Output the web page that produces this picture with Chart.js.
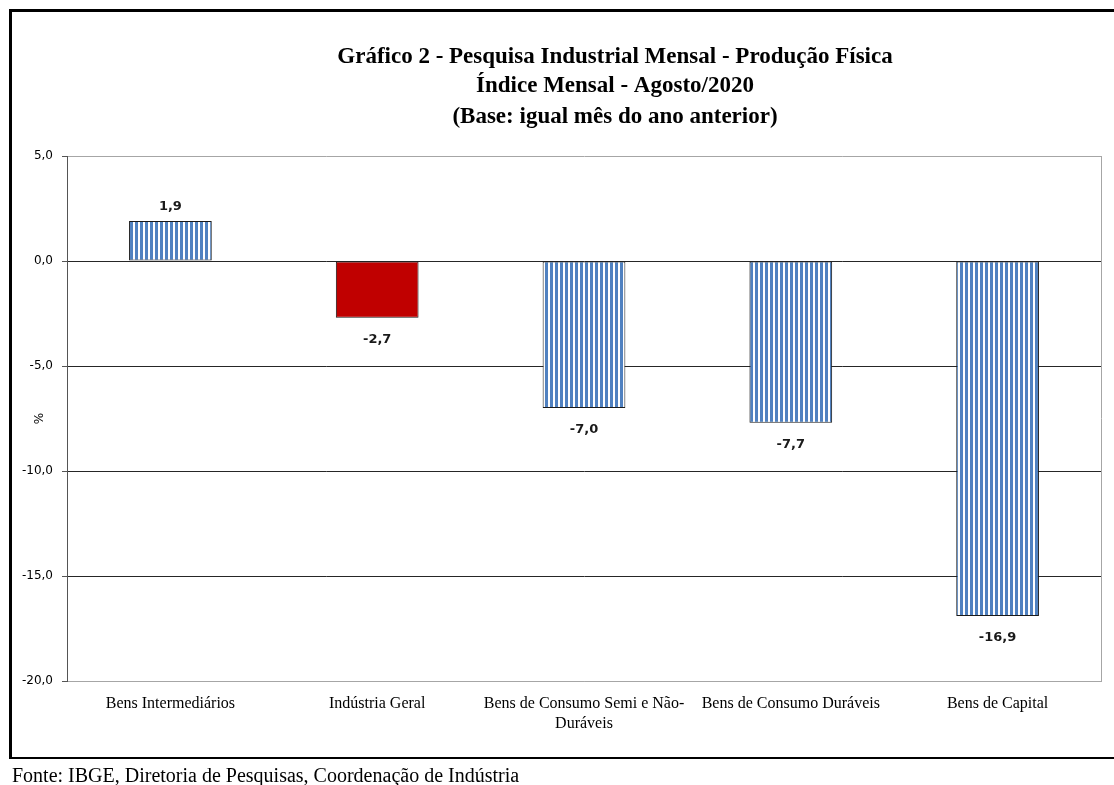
<!DOCTYPE html>
<html>
<head>
<meta charset="utf-8">
<script src="https://cdn.jsdelivr.net/npm/chart.js@4.4.1/dist/chart.umd.min.js"></script>
<style>
html,body{margin:0;padding:0;background:#fff;}
#wrap{width:1114px;height:785px;position:relative;}
</style>
</head>
<body>
<div id="wrap"><canvas id="c" width="1114" height="785"></canvas></div>
<script>
const titleLines = ["Gráfico 2 - Pesquisa Industrial Mensal - Produção Física", "Índice Mensal - Agosto/2020", "(Base: igual mês do ano anterior)"];
const categories = [["Bens Intermediários"], ["Indústria Geral"], ["Bens de Consumo Semi e Não-", "Duráveis"], ["Bens de Consumo Duráveis"], ["Bens de Capital"]];
const values = [1.9, -2.7, -7.0, -7.7, -16.9];
const highlightIndex = 1;
const yMin = -20, yMax = 5, yStep = 5;
const yTitle = "%";
const sourceNote = "Fonte: IBGE, Diretoria de Pesquisas, Coordenação de Indústria";

function fmt(v){ return v.toFixed(1).replace('.', ','); }

const ctx0 = document.getElementById('c').getContext('2d');
const pc = document.createElement('canvas');
pc.width = 5; pc.height = 4;
const p = pc.getContext('2d');
p.fillStyle = '#ffffff'; p.fillRect(0,0,5,4);
p.fillStyle = '#5081c0'; p.fillRect(0,0,3,4);
const stripe = ctx0.createPattern(pc, 'repeat');

const decor = {
  id: 'decor',
  beforeDraw(chart){
    const c = chart.ctx;
    c.save();
    c.fillStyle = '#fff';
    c.fillRect(0,0,chart.width,chart.height);
    c.restore();
  },
  afterDraw(chart){
    const c = chart.ctx;
    const a = chart.chartArea;
    c.save();
    c.strokeStyle = '#a6a6a6';
    c.lineWidth = 1;
    c.beginPath();
    c.moveTo(Math.round(a.right)+0.5, a.top);
    c.lineTo(Math.round(a.right)+0.5, a.bottom);
    c.stroke();
    c.fillStyle = '#000';
    c.fillRect(9, 9, chart.width - 9, 3);
    c.fillRect(9, 9, 3, 750);
    c.fillRect(9, 757, chart.width - 9, 2);
    c.fillStyle = '#000';
    c.textAlign = 'center';
    c.textBaseline = 'middle';
    c.font = 'bold 23px "Liberation Serif"';
    const ys = [57, 86, 117];
    titleLines.forEach((t,i)=>c.fillText(t, 615, ys[i]));
    c.font = 'bold 13px "DejaVu Sans"';
    c.fillStyle = '#1a1a1a';
    const meta = chart.getDatasetMeta(0);
    meta.data.forEach((bar, i) => {
      const v = values[i];
      const y = v >= 0 ? bar.y - 14 : bar.y + 22;
      c.fillText(fmt(v), bar.x, y);
    });
    c.textAlign = 'left';
    c.font = '20px "Liberation Serif"';
    c.fillStyle = '#000';
    c.fillText(sourceNote, 12, 777);
    c.restore();
  }
};

new Chart(document.getElementById('c'), {
  type: 'bar',
  data: {
    labels: categories,
    datasets: [{
      data: values,
      backgroundColor: (ctx) => ctx.dataIndex === highlightIndex ? '#c00000' : stripe,
      borderColor: '#1a1a1a',
      borderWidth: 1,
      borderSkipped: false,
      categoryPercentage: 1,
      barPercentage: 0.4
    }]
  },
  options: {
    responsive: false,
    animation: false,
    devicePixelRatio: 1,
    layout: { padding: { top: 156, left: 12, right: 13, bottom: 44 } },
    plugins: { legend: { display: false }, tooltip: { enabled: false }, title: { display: false } },
    scales: {
      x: {
        grid: { display: false, drawTicks: false },
        border: { display: true, color: '#a6a6a6' },
        ticks: { color: '#000', font: { family: 'Liberation Serif', size: 16, lineHeight: 1.3 }, padding: 12, maxRotation: 0, autoSkip: false },
        afterFit: (s) => { s.height = 60; }
      },
      y: {
        min: yMin, max: yMax,
        ticks: { stepSize: yStep, color: '#000', font: { family: 'DejaVu Sans', size: 12 }, padding: 9, callback: (v) => fmt(v) },
        grid: {
          color: (ctx) => (ctx.tick && (ctx.tick.value === yMax || ctx.tick.value === yMin)) ? '#a6a6a6' : '#262626',
          tickLength: 5,
          tickColor: '#555'
        },
        border: { display: true, color: '#555' },
        title: { display: true, text: yTitle, color: '#000', font: { family: 'DejaVu Sans', size: 12 }, padding: { top: 21, bottom: 0 } },
        afterFit: (s) => { s.width = 55; }
      }
    }
  },
  plugins: [decor]
});
</script>
</body>
</html>
